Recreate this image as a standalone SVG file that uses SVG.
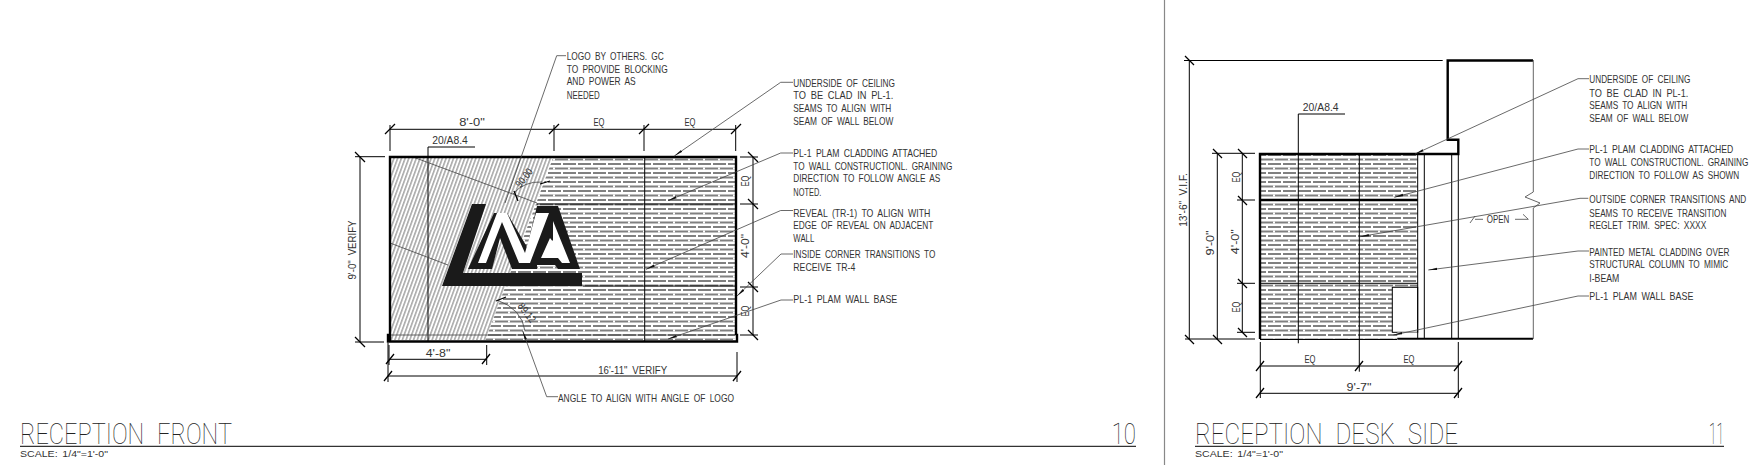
<svg xmlns="http://www.w3.org/2000/svg" width="1752" height="465" viewBox="0 0 1752 465">
<style>
text{font-family:"Liberation Sans Narrow","Liberation Sans",Arial,sans-serif;fill:#333;font-size:10.8px;word-spacing:2.5px}
.scale{font-size:9px;fill:#333;word-spacing:1.5px}
.title{font-family:Roboto,"Liberation Sans",sans-serif;font-weight:100;font-size:30px;fill:#222;word-spacing:9px}
.dim{fill:none;stroke:#000;stroke-width:1}
.tick{fill:none;stroke:#000;stroke-width:1.3}
.thick{fill:none;stroke:#000;stroke-width:2.4}
.leader{fill:none;stroke:#444;stroke-width:.8;marker-end:url(#arrow)}
.plain{fill:none;stroke:#444;stroke-width:.8}
.gray{fill:none;stroke:#666;stroke-width:1}
</style>
<defs>
<marker id="arrow" markerUnits="userSpaceOnUse" markerWidth="10" markerHeight="6" refX="9" refY="2.5" orient="auto"><path d="M0 1.3L9 2.5L0 3.7Z" fill="#111"/></marker>
<pattern id="lam" patternUnits="userSpaceOnUse" width="30" height="9">
<rect width="30" height="9" fill="#fff"/>
<rect y="1" width="30" height="2" fill="#808080"/>
<rect y="5.5" width="30" height="2" fill="#808080"/>
<rect x="6" y="1" width="2" height="2" fill="#fff"/>
<rect x="21" y="1" width="2" height="2" fill="#fff"/>
<rect x="13" y="5.5" width="2" height="2" fill="#fff"/>
<rect x="28" y="5.5" width="2" height="2" fill="#fff"/>
</pattern>
<pattern id="diag" patternUnits="userSpaceOnUse" width="3.5" height="12" patternTransform="rotate(20)">
<rect width="3.5" height="12" fill="#fff"/>
<rect width="1.6" height="12" fill="#aaa"/>
</pattern>
</defs>
<rect width="1752" height="465" fill="#fff"/>

<g id="sheet-divider"><line x1="1164.5" y1="0" x2="1164.5" y2="465" stroke="#888" stroke-width="1.2"/></g>

<g id="front-elevation">
<polygon points="391,158 553,158 485.5,340 391,340" fill="url(#diag)"/>
<polygon points="553,158 735,158 735,340 485.5,340" fill="url(#lam)"/>
<path class="dim" d="M428 147H475M428 147V341M644.7 157V341M537 204H736M583 286H736"/>
<path class="plain" d="M413 157L537 203M390 243L448 265M389 335H736"/>
<path class="thick" d="M390 341V157H736V335M736 335H737V341.5H388V335H390"/>
</g>

<g id="logo">
<polygon points="472,204 486,204 463,273 582,273 582,286 442,286" fill="#1a1a1a"/>
<polygon points="468,269 494,213 507,213 527,247 537,206 558,206 580,269 558,269 555,265 537,265 537,269 512,269 500,238 492,269" fill="#1a1a1a"/>
<polygon points="478,263 497,213 507,213 525,253 536,213 549,213 530,263 519,263 502,222 486,263" fill="#fff"/>
<polygon points="553,221 570,263 562,263 558,258 541,258 550,238 558,248 548,248 550,244 553,240" fill="#fff"/>
</g>

<g id="front-angles">
<path class="plain" d="M513 194Q524 181 542 182M497 300Q522 309 525 331"/>
<path class="tick" d="M514 191L518 201M540 184L550 181M496 301L506 297"/>
<text transform="translate(527 180) rotate(-52)" text-anchor="middle" textLength="21" lengthAdjust="spacingAndGlyphs">90.00</text>
<text transform="translate(524 315) rotate(52)" text-anchor="middle" textLength="22" lengthAdjust="spacingAndGlyphs">89.12</text>
</g>

<g id="front-dimensions">
<path class="dim" d="M390 125V151M554 125V151M644 125V151M735.7 125V151M390 129.3H735.7"/>
<path class="dim" d="M355 156.7H385M355 342H384M360 156.7V342M740 157H758M740 204H758M740 287H758M740 335H758M753 157V335"/>
<path class="dim" d="M389 345V365M486.7 345V365M389 359.3H486.7M388 343V382M737 352V382M388 376H737"/>
<path class="tick" d="M385 134L395 124M549 134L559 124M639 134L649 124M731 134L741 124"/>
<path class="tick" d="M355 152L365 162M355 337L365 347M748 152L758 162M748 199L758 209M748 282L758 292M748 330L758 340"/>
<path class="tick" d="M386 364L394 354M482 364L490 354M384 381L392 371M733 381L741 371"/>
<text x="472" y="126" text-anchor="middle" textLength="25.7" lengthAdjust="spacingAndGlyphs">8'-0"</text>
<text x="599" y="126" text-anchor="middle" textLength="11" lengthAdjust="spacingAndGlyphs">EQ</text>
<text x="690" y="126" text-anchor="middle" textLength="11" lengthAdjust="spacingAndGlyphs">EQ</text>
<text x="450" y="144" text-anchor="middle" textLength="35.7" lengthAdjust="spacingAndGlyphs">20/A8.4</text>
<text transform="translate(356 250) rotate(-90)" text-anchor="middle" textLength="59" lengthAdjust="spacingAndGlyphs">9'-0" VERIFY</text>
<text transform="translate(749 181) rotate(-90)" text-anchor="middle" textLength="11" lengthAdjust="spacingAndGlyphs">EQ</text>
<text transform="translate(749 246) rotate(-90)" text-anchor="middle" textLength="24" lengthAdjust="spacingAndGlyphs">4'-0"</text>
<text transform="translate(749 311) rotate(-90)" text-anchor="middle" textLength="11" lengthAdjust="spacingAndGlyphs">EQ</text>
<text x="438" y="357" text-anchor="middle" textLength="24.7" lengthAdjust="spacingAndGlyphs">4'-8"</text>
<text x="632.7" y="373.7" text-anchor="middle" textLength="69" lengthAdjust="spacingAndGlyphs">16'-11" VERIFY</text>
</g>

<g id="front-connectors">
<path class="plain" d="M566 55.7H556.7L505 203"/>
<path class="leader" d="M558 396.7H546.7L522.7 331"/>
<path class="leader" d="M793 82.3H780.7L674.3 156"/>
<path class="leader" d="M793 153H780.7L668 200.7"/>
<path class="leader" d="M793 210.5H780.7L646 269.3"/>
<path class="leader" d="M793 254H781L737 296"/>
<path class="leader" d="M793 300H781L668 339"/>
</g>

<g id="front-notes">
<text x="566.7" y="60" textLength="97" lengthAdjust="spacingAndGlyphs">LOGO BY OTHERS. GC</text>
<text x="566.7" y="72.7" textLength="101" lengthAdjust="spacingAndGlyphs">TO PROVIDE BLOCKING</text>
<text x="566.7" y="85.3" textLength="69" lengthAdjust="spacingAndGlyphs">AND POWER AS</text>
<text x="566.7" y="99" textLength="33" lengthAdjust="spacingAndGlyphs">NEEDED</text>
<text x="793.3" y="86.7" textLength="101.7" lengthAdjust="spacingAndGlyphs">UNDERSIDE OF CEILING</text>
<text x="793.3" y="99.3" textLength="100" lengthAdjust="spacingAndGlyphs">TO BE CLAD IN PL-1.</text>
<text x="793.3" y="112.3" textLength="98" lengthAdjust="spacingAndGlyphs">SEAMS TO ALIGN WITH</text>
<text x="793.3" y="125.3" textLength="100" lengthAdjust="spacingAndGlyphs">SEAM OF WALL BELOW</text>
<text x="793.3" y="156.7" textLength="144" lengthAdjust="spacingAndGlyphs">PL-1 PLAM CLADDING ATTACHED</text>
<text x="793.3" y="169.7" textLength="159" lengthAdjust="spacingAndGlyphs">TO WALL CONSTRUCTIONL. GRAINING</text>
<text x="793.3" y="182.3" textLength="147" lengthAdjust="spacingAndGlyphs">DIRECTION TO FOLLOW ANGLE AS</text>
<text x="793.3" y="195.7" textLength="28" lengthAdjust="spacingAndGlyphs">NOTED.</text>
<text x="793.3" y="216.7" textLength="137" lengthAdjust="spacingAndGlyphs">REVEAL (TR-1) TO ALIGN WITH</text>
<text x="793.3" y="229.3" textLength="140" lengthAdjust="spacingAndGlyphs">EDGE OF REVEAL ON ADJACENT</text>
<text x="793.3" y="241.7" textLength="21" lengthAdjust="spacingAndGlyphs">WALL</text>
<text x="793.3" y="258.3" textLength="142" lengthAdjust="spacingAndGlyphs">INSIDE CORNER TRANSITIONS TO</text>
<text x="793.3" y="271" textLength="62" lengthAdjust="spacingAndGlyphs">RECEIVE TR-4</text>
<text x="793.3" y="303.3" textLength="104" lengthAdjust="spacingAndGlyphs">PL-1 PLAM WALL BASE</text>
<text x="558" y="401.7" textLength="176" lengthAdjust="spacingAndGlyphs">ANGLE TO ALIGN WITH ANGLE OF LOGO</text>
</g>

<g id="side-elevation">
<rect x="1260" y="155" width="157.7" height="184" fill="url(#lam)"/>
<rect x="1392.3" y="287.3" width="25.4" height="45" fill="#fff" stroke="#000" stroke-width="1"/>
<rect x="1397.3" y="332.5" width="20.4" height="6" fill="#fff"/>
<path class="dim" d="M1298.3 114H1345M1298.3 114V343.3M1359.3 154V371.7M1417.7 154V338M1424.3 154V338M1451.7 154V338M1458.3 154V338"/>
<path class="thick" d="M1260 339V154H1458.3V139.7H1447.7V60.5H1533M1260 200H1417.7"/>
<path class="dim" d="M1260 283.3H1417.7M1260 339.5H1397"/>
<path d="M1397.3 338.7H1533" fill="none" stroke="#000" stroke-width="2"/>
<path class="gray" d="M1533.3 60V192L1525 197L1540 203L1533.3 208V339"/>
</g>

<g id="side-dimensions">
<path class="dim" d="M1184 60.5H1442.7M1189.3 60.5V339M1185 339H1255M1217.3 153.3V339M1212 153.3H1255M1242.3 153.3V332.3M1237 200H1255M1237 283.3H1255M1237 332.3H1255"/>
<path class="dim" d="M1260.3 342V398M1458.3 342V398M1260.3 366H1458.3M1260.3 393.3H1458.3"/>
<path class="tick" d="M1185 56L1194 65M1185 335L1194 344M1213 149L1222 158M1213 335L1222 344M1238 149L1247 158M1238 196L1247 205M1238 279L1247 288M1238 328L1247 337"/>
<path class="tick" d="M1256 371L1264 361M1355 371L1363 361M1454 371L1462 361M1256 398L1264 388M1454 398L1462 388"/>
<text x="1320.7" y="110.7" text-anchor="middle" textLength="35.7" lengthAdjust="spacingAndGlyphs">20/A8.4</text>
<text transform="translate(1186.5 200) rotate(-90)" text-anchor="middle" textLength="53.7" lengthAdjust="spacingAndGlyphs">13'-6" V.I.F.</text>
<text transform="translate(1213.5 243) rotate(-90)" text-anchor="middle" textLength="25" lengthAdjust="spacingAndGlyphs">9'-0"</text>
<text transform="translate(1239 241.7) rotate(-90)" text-anchor="middle" textLength="25" lengthAdjust="spacingAndGlyphs">4'-0"</text>
<text transform="translate(1239.5 177) rotate(-90)" text-anchor="middle" textLength="11" lengthAdjust="spacingAndGlyphs">EQ</text>
<text transform="translate(1239.5 307) rotate(-90)" text-anchor="middle" textLength="11" lengthAdjust="spacingAndGlyphs">EQ</text>
<text x="1310" y="363.3" text-anchor="middle" textLength="11" lengthAdjust="spacingAndGlyphs">EQ</text>
<text x="1409" y="363.3" text-anchor="middle" textLength="11" lengthAdjust="spacingAndGlyphs">EQ</text>
<text x="1359" y="390.7" text-anchor="middle" textLength="25" lengthAdjust="spacingAndGlyphs">9'-7"</text>
<path class="plain" d="M1470 223L1475 216M1475 219.3H1483M1515 219.3H1528.3L1523 214.3"/>
<text x="1486.7" y="222.7" textLength="22.6" lengthAdjust="spacingAndGlyphs">OPEN</text>
</g>

<g id="side-connectors">
<path class="leader" d="M1589 78.7H1578L1415 154"/>
<path class="leader" d="M1589 149H1578L1394.3 197.3"/>
<path class="leader" d="M1588.3 198.3H1580L1360 236.7"/>
<path class="leader" d="M1589 251H1578L1428.3 270"/>
<path class="leader" d="M1589 296H1578L1393.3 335"/>
</g>

<g id="side-notes" transform="translate(1589.3 0) scale(.75 1)">
<text x="0" y="83.3" textLength="134.7" lengthAdjust="spacingAndGlyphs">UNDERSIDE OF CEILING</text>
<text x="0" y="96.7" textLength="132" lengthAdjust="spacingAndGlyphs">TO BE CLAD IN PL-1.</text>
<text x="0" y="109" textLength="130.7" lengthAdjust="spacingAndGlyphs">SEAMS TO ALIGN WITH</text>
<text x="0" y="122.3" textLength="132" lengthAdjust="spacingAndGlyphs">SEAM OF WALL BELOW</text>
<text x="0" y="152.7" textLength="192" lengthAdjust="spacingAndGlyphs">PL-1 PLAM CLADDING ATTACHED</text>
<text x="0" y="165.7" textLength="212" lengthAdjust="spacingAndGlyphs">TO WALL CONSTRUCTIONL. GRAINING</text>
<text x="0" y="179" textLength="200" lengthAdjust="spacingAndGlyphs">DIRECTION TO FOLLOW AS SHOWN</text>
<text x="0" y="203.3" textLength="209.3" lengthAdjust="spacingAndGlyphs">OUTSIDE CORNER TRANSITIONS AND</text>
<text x="0" y="216.7" textLength="182.7" lengthAdjust="spacingAndGlyphs">SEAMS TO RECEIVE TRANSITION</text>
<text x="0" y="229.3" textLength="156" lengthAdjust="spacingAndGlyphs">REGLET TRIM. SPEC: XXXX</text>
<text x="0" y="255.7" textLength="186.7" lengthAdjust="spacingAndGlyphs">PAINTED METAL CLADDING OVER</text>
<text x="0" y="268.3" textLength="185.3" lengthAdjust="spacingAndGlyphs">STRUCTURAL COLUMN TO MIMIC</text>
<text x="0" y="281.7" textLength="40" lengthAdjust="spacingAndGlyphs">I-BEAM</text>
<text x="0" y="300" textLength="138.7" lengthAdjust="spacingAndGlyphs">PL-1 PLAM WALL BASE</text>
</g>

<g id="title-blocks">
<path d="M20 446.3H1136M1195 446.3H1724" stroke="#000" stroke-width="1" fill="none"/>
<text class="title" x="20" y="444" textLength="212" lengthAdjust="spacingAndGlyphs">RECEPTION FRONT</text>
<text class="scale" x="20" y="456.7" textLength="88" lengthAdjust="spacingAndGlyphs">SCALE: 1/4"=1'-0"</text>
<text class="title" x="1111.7" y="444" textLength="24.3" lengthAdjust="spacingAndGlyphs">10</text>
<text class="title" x="1195" y="444" textLength="263" lengthAdjust="spacingAndGlyphs">RECEPTION DESK SIDE</text>
<text class="scale" x="1195" y="456.7" textLength="88" lengthAdjust="spacingAndGlyphs">SCALE: 1/4"=1'-0"</text>
<text class="title" x="1709" y="444" textLength="15" lengthAdjust="spacingAndGlyphs">11</text>
</g>
</svg>
